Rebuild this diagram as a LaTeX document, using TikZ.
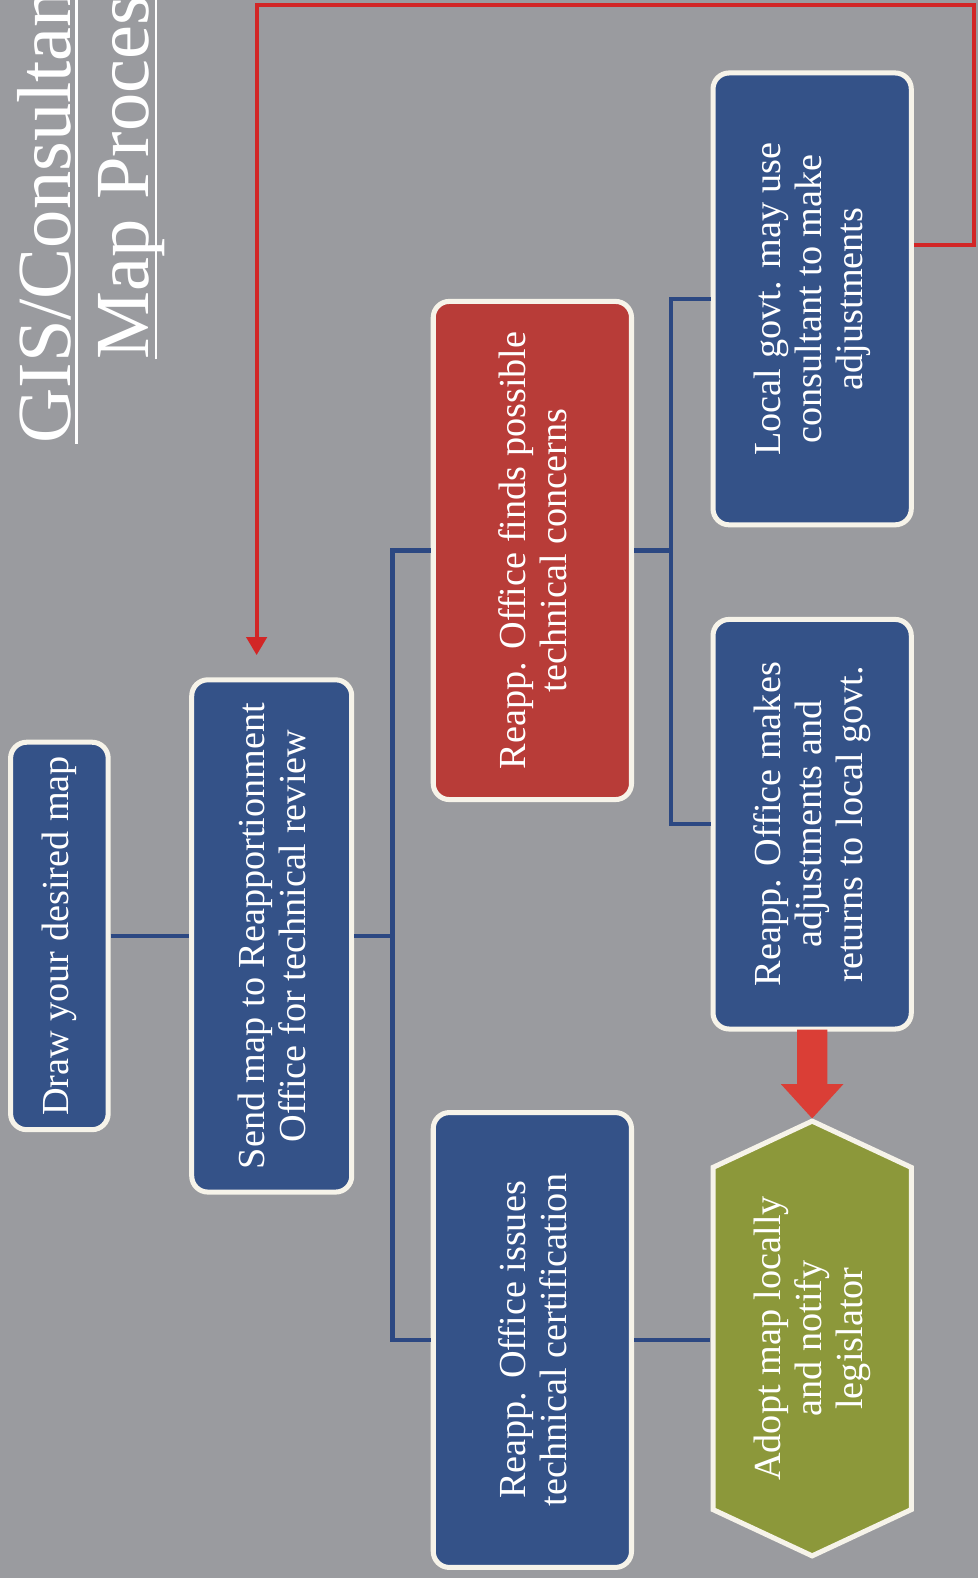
\documentclass[tikz,border=0pt]{standalone}
\usepackage{fontspec}
\setmainfont{Liberation Serif}
\usetikzlibrary{arrows.meta,calc}
\definecolor{bg}{RGB}{154,155,159}
\definecolor{boxblue}{RGB}{52,82,136}
\definecolor{boxred}{RGB}{184,60,56}
\definecolor{boxgreen}{RGB}{140,152,58}
\definecolor{rim}{RGB}{246,243,233}
\definecolor{linkblue}{RGB}{44,72,130}
\definecolor{redline}{RGB}{210,38,38}
\definecolor{arrowred}{RGB}{218,62,54}
\begin{document}
\begin{tikzpicture}[x=1pt,y=-1pt,
  box/.style={rotate=90, draw=rim, line width=5pt, rounded corners=16pt,
    text=white, align=center, inner sep=0pt,
    font=\fontsize{38}{41}\selectfont},
  bluebox/.style={box, fill=boxblue},
  redbox/.style={box, fill=boxred},
  hextext/.style={rotate=90, inner sep=0pt, text=white, align=center,
    font=\fontsize{38}{41}\selectfont},
  link/.style={draw=linkblue, line width=4pt},
  feedback/.style={draw=redline, line width=4pt,
    -{Triangle[width=20pt,length=18pt]}},
  title/.style={rotate=90, anchor=base west, inner sep=0pt, text=white,
    font=\fontsize{76}{76}\selectfont},
  titleline/.style={draw=white, line width=2.5pt}]
\useasboundingbox (0,0) rectangle (972,1568);
\fill[bg] (0,0) rectangle (972,1568);
\clip (0,0) rectangle (972,1568);

% title
\node[title] (t1) at (70,441) {GIS/Consultant};
\node[title] (t2) at (148,357) {Map Process};
\draw[titleline] ($(t1.base west)+(6,0)$) -- ($(t1.base east)+(6,0)$);
\draw[titleline] ($(t2.base west)+(7,0)$) -- ($(t2.base east)+(7,0)$);

% boxes
\node[bluebox, minimum width=385, minimum height=97] (A) at (59,930)
  {Draw your desired map};
\node[bluebox, minimum width=509, minimum height=159] (B) at (270,930)
  {Send map to Reapportionment\\Office for technical review};
\node[redbox, minimum width=495, minimum height=197] (C) at (529,547)
  {Reapp. Office finds possible\\technical concerns};
\node[bluebox, minimum width=452, minimum height=197] (D) at (529,1331.5)
  {Reapp. Office issues\\technical certification};
\node[bluebox, minimum width=449, minimum height=197] (E) at (807,297)
  {Local govt. may use\\consultant to make\\adjustments};
\node[bluebox, minimum width=407, minimum height=197] (F) at (807,819)
  {Reapp. Office makes\\adjustments and\\returns to local govt.};

% hexagon
\filldraw[fill=boxgreen, draw=rim, line width=5pt]
  (708.5,1160) -- (807,1114) -- (905.5,1160) -- (905.5,1500)
  -- (807,1546) -- (708.5,1500) -- cycle;
\node[hextext, minimum width=437, minimum height=202] (G) at (807,1330)
  {Adopt map locally\\and notify\\legislator};

% connectors
\coordinate (j1) at (390,930);
\coordinate (j2) at (667,547);
\draw[link] (A.south) -- (B.north);
\draw[link] (B.south) -- (j1);
\draw[link] (C.north) -- (C.north -| j1) -- (D.north -| j1) -- (D.north);
\draw[link] (C.south) -- (j2);
\draw[link] (E.north) -- (E.north -| j2) -- (F.north -| j2) -- (F.north);
\draw[link] (D.south) -- (D.south -| G.north);

% block arrow F -> G
\fill[arrowred] ($(F.west)+(-15,-2)$) -- ($(F.west)+(15,-2)$)
  -- ($(G.east)+(15,-34)$) -- ($(G.east)+(31,-34)$) -- (G.east)
  -- ($(G.east)+(-31,-34)$) -- ($(G.east)+(-15,-34)$) -- cycle;

% feedback red line E -> B
\coordinate (r0) at (968,243);
\coordinate (r1) at (968,5);
\coordinate (r2) at (255,5);
\draw[feedback, shorten >=22pt] (r0 -| E.south) -- (r0) -- (r1) -- (r2)
  -- (r2 |- B.east);
\end{tikzpicture}
\end{document}
